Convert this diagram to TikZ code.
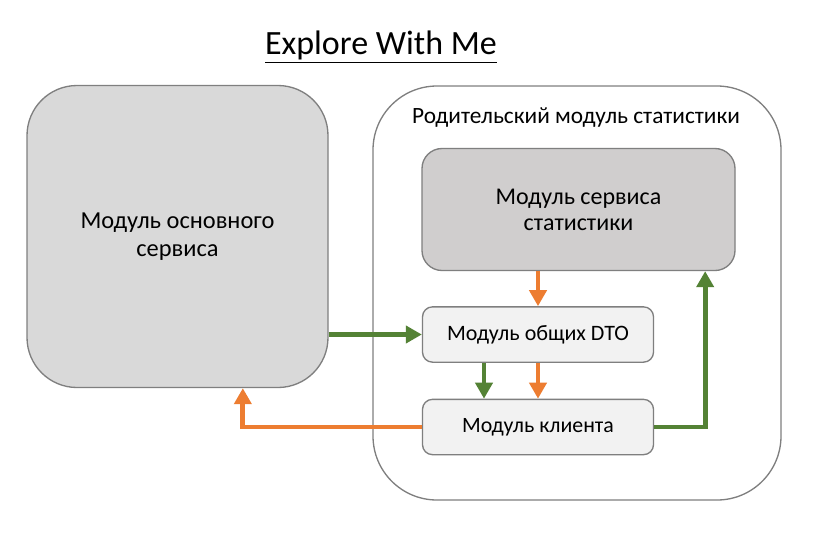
\documentclass[tikz,border=0pt]{standalone}
\usepackage{fontspec}
\setmainfont{Carlito}
\usetikzlibrary{arrows.meta}
\definecolor{boxline}{HTML}{7F7F7F}
\definecolor{mainfill}{HTML}{D9D9D9}
\definecolor{statfill}{HTML}{D0CECE}
\definecolor{smallfill}{HTML}{F2F2F2}
\definecolor{arrorange}{HTML}{ED7D31}
\definecolor{arrgreen}{HTML}{548235}
\tikzset{
  bigbox/.style={draw=boxline, line width=1pt, fill=mainfill, rounded corners=37.5pt,
    minimum width=225.75pt, minimum height=226.5pt, align=center, font=\fontsize{18.3}{21}\selectfont},
  outerbox/.style={draw=boxline, line width=1pt, fill=white, rounded corners=48pt,
    minimum width=306pt, minimum height=310.5pt},
  statbox/.style={draw=boxline, line width=1pt, fill=statfill, rounded corners=15pt,
    minimum width=234.75pt, minimum height=91.5pt, align=center, font=\fontsize{18}{19.5}\selectfont},
  smallbox/.style={draw=boxline, line width=1pt, fill=smallfill, rounded corners=7.5pt,
    minimum width=173.25pt, minimum height=41.5pt},
  conn/.style={line width=3.6pt, -{Triangle[length=12pt,width=12.75pt]}},
  gconn/.style={conn, draw=arrgreen},
  oconn/.style={conn, draw=arrorange},
}
\begin{document}
\begin{tikzpicture}[x=0.75pt,y=-0.75pt]
\useasboundingbox (0,0) rectangle (818,547);
\node[font=\fontsize{25.5}{30}\selectfont] (title) at (381,47) {\underline{Explore With Me}};
\node[bigbox] (main) at (177.5,236.5) {Модуль основного\\сервиса};
\node[outerbox] (parent) at (577,293) {};
\node[font=\fontsize{17.5}{20}\selectfont] (parentlabel) at (576,118) {Родительский модуль статистики};
\node[statbox] (stats) at (578.5,209.5) {Модуль сервиса\\статистики};
\node[smallbox, font=\fontsize{16.5}{19}\selectfont] (dto) at (538,334.5) {Модуль общих DTO};
\node[smallbox, font=\fontsize{16.4}{19}\selectfont] (client) at (538,427) {Модуль клиента};
\draw[gconn] (main.east |- dto.west) -- (dto.west);
\draw[oconn] (stats.south -| dto.north) -- (dto.north);
\draw[gconn] ([xshift={-40.5pt}]dto.south) -- ([xshift={-40.5pt}]client.north);
\draw[oconn] (dto.south) -- (client.north);
\draw[oconn] (client.west) -| ([xshift={49pt}]main.south);
\draw[gconn] (client.east) -| ([xshift={95pt}]stats.south);
\end{tikzpicture}
\end{document}
